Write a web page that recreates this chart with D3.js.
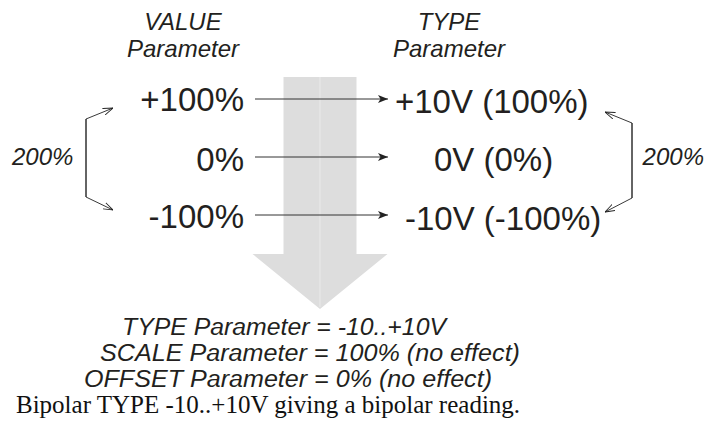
<!DOCTYPE html>
<html>
<head>
<meta charset="utf-8">
<script src="https://cdn.jsdelivr.net/npm/d3@7"></script>
<style>
  body { margin: 0; background: #fff; }
  svg { display: block; }
</style>
</head>
<body>
<svg id="fig" width="704" height="428"></svg>
<script>
// values shown in the diagram
const levels = [100, 0, -100];
const valueLabels = ["+100%", "0%", "-100%"];
const typeLabels = ["+10V (100%)", "0V (0%)", "-10V (-100%)"];
const headingLeft = ["VALUE", "Parameter"];
const headingRight = ["TYPE", "Parameter"];
const spanLabel = "200%";
const notes = [
    "TYPE Parameter = -10..+10V",
    "SCALE Parameter = 100% (no effect)",
    "OFFSET Parameter = 0% (no effect)"
];
const caption = "Bipolar TYPE -10..+10V giving a bipolar reading.";

const sans = "'Liberation Sans', Arial, sans-serif";
const serif = "'Liberation Serif', 'Times New Roman', serif";
const ink = "#231f20";

const Fig = d3.select("#fig");

// vertical position of each level row (arrow line)
const yScale = d3.scaleLinear().domain([100, -100]).range([99, 215]);

// big gray down arrow behind the rows
const cx = 320, shaftHalf = 36.5, headHalf = 67.5;
const shaftTop = 77, headTop = 254, tipY = 309;
const bigArrow = [
    [cx - shaftHalf, shaftTop], [cx + shaftHalf, shaftTop],
    [cx + shaftHalf, headTop], [cx + headHalf, headTop],
    [cx, tipY],
    [cx - headHalf, headTop], [cx - shaftHalf, headTop]
];
Fig.append("path")
    .attr("d", d3.line()(bigArrow) + "Z")
    .attr("fill", "#dddddd");
Fig.append("line")
    .attr("x1", cx).attr("x2", cx)
    .attr("y1", shaftTop).attr("y2", tipY - 2)
    .attr("stroke", "#eaeaea")
    .attr("stroke-width", 1);

// markers
const defs = Fig.append("defs");
defs.append("marker")
    .attr("id", "solid")
    .attr("viewBox", "0 0 10 8")
    .attr("refX", 10).attr("refY", 4)
    .attr("markerWidth", 10).attr("markerHeight", 8)
    .attr("markerUnits", "userSpaceOnUse")
    .attr("orient", "auto")
    .append("path")
    .attr("d", "M0,0 L10,4 L0,8 L2.5,4 Z")
    .attr("fill", "#222");
defs.append("marker")
    .attr("id", "open")
    .attr("viewBox", "0 0 10 8")
    .attr("refX", 10).attr("refY", 4)
    .attr("markerWidth", 10).attr("markerHeight", 8)
    .attr("markerUnits", "userSpaceOnUse")
    .attr("orient", "auto")
    .append("path")
    .attr("d", "M0,0.5 L10,4 L0,7.5")
    .attr("fill", "none")
    .attr("stroke", "#222")
    .attr("stroke-width", 0.9);

// headings
const headG = Fig.append("g")
    .attr("font-family", sans)
    .attr("font-style", "italic")
    .attr("font-size", 24)
    .attr("fill", ink)
    .attr("text-anchor", "middle");
[[183, headingLeft], [449, headingRight]].forEach(([x, lines]) => {
    lines.forEach((t, i) => {
        headG.append("text")
            .attr("x", x)
            .attr("y", 30 + i * 27)
            .text(t);
    });
});

// rows: value label -> arrow -> type label
const rows = levels.map((v, i) => ({ v, left: valueLabels[i], right: typeLabels[i] }));
const rightNudge = [0, 39, 10];

const rowG = Fig.selectAll(".row")
    .data(rows)
    .join("g")
    .attr("class", "row")
    .attr("transform", d => `translate(0,${yScale(d.v)})`);

rowG.append("line")
    .attr("x1", 255).attr("x2", 388)
    .attr("y1", 0).attr("y2", 0)
    .attr("stroke", "#333")
    .attr("stroke-width", 1)
    .attr("marker-end", "url(#solid)");

rowG.append("text")
    .attr("x", 244)
    .attr("y", (d, i) => [12, 14, 13][i])
    .attr("text-anchor", "end")
    .attr("font-family", sans)
    .attr("font-size", 33)
    .attr("fill", ink)
    .text(d => d.left);

rowG.append("text")
    .attr("x", (d, i) => 395 + rightNudge[i])
    .attr("y", (d, i) => [14, 14, 15][i])
    .attr("font-family", sans)
    .attr("font-size", 33)
    .attr("fill", ink)
    .text(d => d.right);

// 200% span brackets
const yTop = yScale(levels[0]), yBot = yScale(levels[2]);
const bracket = d3.line();
function bracketArm(pts) {
    Fig.append("path")
        .attr("d", bracket(pts))
        .attr("fill", "none")
        .attr("stroke", "#222")
        .attr("stroke-width", 0.9)
        .attr("marker-end", "url(#open)");
}
bracketArm([[86, yBot - 18], [86, yTop + 20], [113, yTop + 9]]);
bracketArm([[86, yTop + 20], [86, yBot - 18], [113, yBot - 5]]);
bracketArm([[632, yBot - 17], [632, yTop + 24], [605, yTop + 13]]);
bracketArm([[632, yTop + 24], [632, yBot - 17], [605, yBot - 3]]);

[[12, "start"], [704, "end"]].forEach(([x, anchor]) => {
    Fig.append("text")
        .attr("x", x)
        .attr("y", 165)
        .attr("text-anchor", anchor)
        .attr("font-family", sans)
        .attr("font-style", "italic")
        .attr("font-size", 24)
        .attr("fill", ink)
        .text(spanLabel);
});

// parameter notes under the arrow
const noteX = [122, 100, 84];
const noteW = [324, 420, 408];
Fig.append("g")
    .selectAll("text")
    .data(notes)
    .join("text")
    .attr("x", (d, i) => noteX[i])
    .attr("y", (d, i) => 335 + i * 26)
    .attr("font-family", sans)
    .attr("font-style", "italic")
    .attr("font-size", 23)
    .attr("fill", ink)
    .attr("textLength", (d, i) => noteW[i])
    .attr("lengthAdjust", "spacingAndGlyphs")
    .text(d => d);

Fig.append("text")
    .attr("x", 16)
    .attr("y", 413)
    .attr("font-family", serif)
    .attr("font-size", 25)
    .attr("fill", "#111")
    .text(caption);
</script>
</body>
</html>
